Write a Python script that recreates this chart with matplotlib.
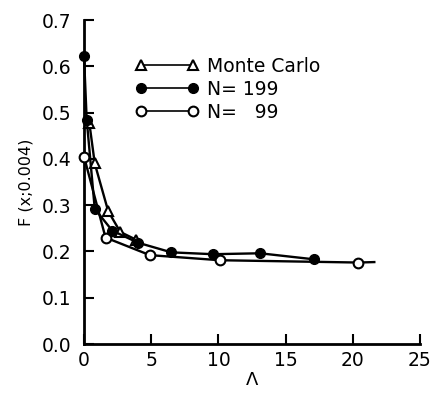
import matplotlib
matplotlib.use("Agg")
import matplotlib.pyplot as plt
from matplotlib.lines import Line2D

# Data
mc_x = [0.4, 0.8, 1.8, 2.7, 3.9]
mc_y = [0.477, 0.39, 0.287, 0.242, 0.225]

n199_x = [0.0, 0.2, 0.8, 2.1, 4.0, 6.5, 9.6, 13.1, 17.1]
n199_y = [0.622, 0.485, 0.292, 0.245, 0.219, 0.198, 0.194, 0.196, 0.183]

n99_x = [0.0, 1.6, 4.9, 10.1, 20.4, 21.6]
n99_y = [0.405, 0.230, 0.192, 0.181, 0.176, 0.177]

xticks = [0, 5, 10, 15, 20, 25]
yticks = [0.0, 0.1, 0.2, 0.3, 0.4, 0.5, 0.6, 0.7]
labels = ['Monte Carlo', 'N= 199', 'N= \u200799']

plt.rcParams['font.family'] = ['DejaVu Sans']

fig = plt.figure(figsize=(4.35, 3.93), dpi=100)
ax = fig.add_axes([84/435, 1-344/393, (420-84)/435, (344-20)/393])

lw = 1.7
ms = 7
ax.plot(mc_x, mc_y, color='black', lw=lw, marker='^', ms=ms, mfc='white',
        mec='black', mew=1.5, clip_on=False, zorder=3)
ax.plot(n199_x, n199_y, color='black', lw=lw, marker='o', ms=ms, mfc='black',
        mec='black', clip_on=False, zorder=4)
ax.plot(n99_x, n99_y, color='black', lw=lw, marker='o', ms=ms, mfc='white',
        mec='black', mew=1.5, markevery=list(range(len(n99_x) - 1)),
        clip_on=False, zorder=3)

ax.set_xlim(0, 25)
ax.set_ylim(0, 0.7)
ax.set_xticks(xticks)
ax.set_yticks(yticks)
ax.set_xticklabels([str(t) for t in xticks])
ax.set_yticklabels([f"{t:.1f}" for t in yticks])

for s in ['top', 'right']:
    ax.spines[s].set_visible(False)
for s in ['left', 'bottom']:
    ax.spines[s].set_linewidth(2)

ax.tick_params(direction='in', length=7, width=1.5, labelsize=13.5)
ax.tick_params(axis='y', pad=9)
ax.tick_params(axis='x', pad=5)

ax.set_ylabel('F (x;0.004)', fontsize=11.5, labelpad=6)
ax.set_xlabel('\u039b', fontsize=13, labelpad=1)

proxies = [
    Line2D([], [], color='black', lw=1.2, marker='^', ms=7, mfc='white', mec='black', mew=1.5),
    Line2D([], [], color='black', lw=1.2, marker='o', ms=7, mfc='black', mec='black'),
    Line2D([], [], color='black', lw=1.2, marker='o', ms=7, mfc='white', mec='black', mew=1.5),
]
fig.legend(proxies, labels, loc='upper left',
           bbox_to_anchor=(135/435, 1-57/393), frameon=False,
           numpoints=2, handlelength=3.4, handletextpad=0.45,
           labelspacing=0.2, fontsize=13.5, borderaxespad=0, borderpad=0)

fig.savefig('out.png', dpi=100)
